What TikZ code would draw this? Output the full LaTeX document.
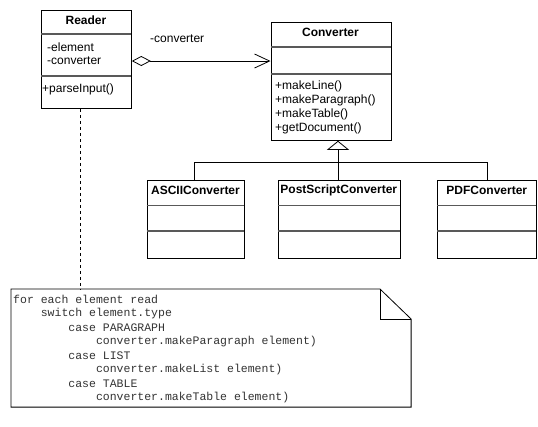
\documentclass[tikz,border=0pt]{standalone}
\usepackage{fontspec}
\setmainfont{Liberation Sans}
\newfontfamily\codefont{Liberation Mono}
\usetikzlibrary{arrows.meta}
\begin{document}
\begin{tikzpicture}[x=1pt,y=-1pt,
  classbox/.style={draw=black,line width=0.8pt,anchor=north west,inner sep=0pt,fill=white},
  sep/.style={draw=black!65,line width=1.4pt},
  ttl/.style={font=\fontsize{12}{14}\selectfont\bfseries,inner sep=0pt},
  txt/.style={font=\fontsize{12}{14}\selectfont,inner sep=0pt,anchor=west},
  conn/.style={draw=black,line width=0.8pt},
  code/.style={font=\codefont\fontsize{11.5}{14}\selectfont,inner sep=0pt,anchor=west,text=black!80}]
\useasboundingbox (0,0) rectangle (538,426);
% Reader
\node[classbox,minimum width=90pt,minimum height=98pt] (reader) at (41,10) {};
\node[ttl] (readerT) at (86,20) {Reader};
\draw[sep] (41,34) -- (131,34);
\draw[sep] (41,76) -- (131,76);
\node[txt] (ra1) at (47,47) {-element};
\node[txt] (ra2) at (47,61) {-converter};
\node[txt] (rm1) at (42,89) {+parseInput()};
% Converter
\node[classbox,minimum width=120pt,minimum height=118pt] (conv) at (270.5,22) {};
\node[ttl] (convT) at (330.5,32) {Converter};
\draw[sep] (270.5,47) -- (390.5,47);
\draw[sep] (270.5,74) -- (390.5,74);
\node[txt] (cm1) at (275,86) {+makeLine()};
\node[txt] (cm2) at (275,100) {+makeParagraph()};
\node[txt] (cm3) at (275,114) {+makeTable()};
\node[txt] (cm4) at (275,128) {+getDocument()};
% Subclasses
\node[classbox,minimum width=97.5pt,minimum height=77.5pt] (ascii) at (146.7,180) {};
\node[ttl] (asciiT) at (195.5,190) {ASCIIConverter};
\draw[sep] (146.7,205.3) -- (244.2,205.3);
\draw[sep] (146.7,231) -- (244.2,231);
\node[classbox,minimum width=122.3pt,minimum height=77.5pt] (ps) at (277.7,180) {};
\node[ttl] (psT) at (338.8,190) {PostScriptConverter};
\draw[sep] (277.7,205.3) -- (400,205.3);
\draw[sep] (277.7,231) -- (400,231);
\node[classbox,minimum width=99pt,minimum height=77.5pt] (pdf) at (437.3,180) {};
\node[ttl] (pdfT) at (486.8,190) {PDFConverter};
\draw[sep] (437.3,205.3) -- (536.3,205.3);
\draw[sep] (437.3,231) -- (536.3,231);
% Aggregation
\draw[conn,{Diamond[open,length=19pt,width=10pt,line width=0.8pt]}-{Straight Barb[length=15pt,width=14pt,line width=0.8pt]}]
  (reader.east |- ra2.center) -- (conv.west |- ra2.center);
\node[txt] (agglbl) at (150,39) {-converter};
% Generalization
\coordinate (hub) at (338,162);
\draw[conn] (ascii.north -| 194,0) -- (194,162) -- (487.3,162) -- (pdf.north -| 487.3,0);
\draw[conn] (ps.north -| hub) -- (hub);
\draw[conn,-{Triangle[open,length=9pt,width=22pt,line width=0.8pt]}] (hub) -- (conv.south -| hub);
% Note
\node[inner sep=0pt,minimum width=399.7pt,minimum height=117.7pt,anchor=north west] (note) at (11,289) {};
\draw[conn,fill=white] (note.north west) -- (380,289) -- (note.east |- 0,319) -- (note.south east) -- (note.south west) -- cycle;
\draw[conn] (380,289) -- (380,319) -- (note.east |- 0,319);
\draw[conn,dashed,dash pattern=on 3pt off 3pt] (reader.south -| 80,0) -- (note.north -| 80,0);
\node[code] (c1) at (13,299.5) {for each element read};
\node[code] (c2) at (13,313.5) {\ \ \ \ switch element.type};
\node[code] (c3) at (13,327.5) {\ \ \ \ \ \ \ \ case PARAGRAPH};
\node[code] (c4) at (13,341.5) {\ \ \ \ \ \ \ \ \ \ \ \ converter.makeParagraph element)};
\node[code] (c5) at (13,355.5) {\ \ \ \ \ \ \ \ case LIST};
\node[code] (c6) at (13,369.5) {\ \ \ \ \ \ \ \ \ \ \ \ converter.makeList element)};
\node[code] (c7) at (13,383.5) {\ \ \ \ \ \ \ \ case TABLE};
\node[code] (c8) at (13,397.5) {\ \ \ \ \ \ \ \ \ \ \ \ converter.makeTable element)};
\end{tikzpicture}
\end{document}
